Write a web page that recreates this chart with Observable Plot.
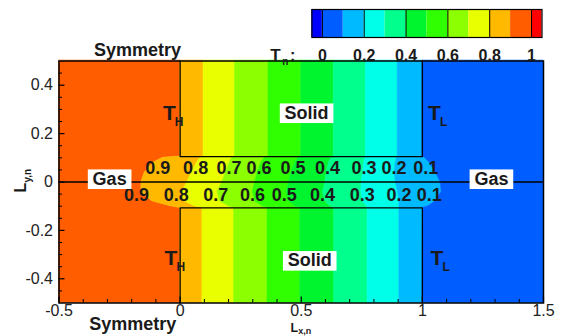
<!DOCTYPE html>
<html><head><meta charset="utf-8">
<script src="https://cdn.jsdelivr.net/npm/d3@7"></script>
<script src="https://cdn.jsdelivr.net/npm/@observablehq/plot@0.6"></script>
<style>
html,body{margin:0;padding:0;background:#fff;}
#wrap{position:relative;width:563px;height:336px;overflow:hidden;background:#fff;}
#wrap svg{position:absolute;left:0;top:0;}
</style></head><body><div id="wrap"></div>
<script>
// ---- colour levels (T_n) ----
const thresholds = [0, 0.1, 0.2, 0.3, 0.4, 0.5, 0.6, 0.7, 0.8, 0.9, 1.0];
const bandColors = ["#0000ff","#005dff","#00baff","#00ffe9","#00ff8c","#00f52f","#2fff00","#8cff00","#e9ff00","#ffba00","#ff5d00","#ff0000"];

// ---- contour positions: x of each T_n contour at given y ----
const knotY      = [0.5,   0.105, 0.1,   0.08,  0.04,  0,     -0.04, -0.08, -0.1,  -0.107, -0.5];
const contour09  = [0,     0,     -0.07, -0.11, -0.145,-0.16, -0.16, -0.115,-0.04,  0,      0];
const contour08  = [0.097, 0.097, 0.085, 0.07,  0.05,  0.03,  0.01,  0.02,  0.06,  0.092,  0.092];
const contour07  = [0.227, 0.227, 0.215, 0.205, 0.19,  0.175, 0.155, 0.165, 0.2,   0.223,  0.223];
const contour06  = [0.365, 0.365, 0.35,  0.335, 0.32,  0.31,  0.3,   0.31,  0.34,  0.361,  0.361];
const contour05  = [0.5,   0.5,   0.49,  0.475, 0.46,  0.45,  0.44,  0.45,  0.475, 0.496,  0.496];
const contour04  = [0.634, 0.634, 0.625, 0.615, 0.605, 0.6,   0.59,  0.6,   0.62,  0.636,  0.636];
const contour03  = [0.767, 0.767, 0.765, 0.76,  0.755, 0.75,  0.748, 0.755, 0.77,  0.774,  0.774];
const contour02  = [0.898, 0.898, 0.895, 0.89,  0.885, 0.89,  0.9,   0.905, 0.905, 0.905,  0.905];
const contour01  = [1.0,   1.0,   1.01,  1.03,  1.055, 1.075, 1.08,  1.055, 1.025, 1.003,  1.0];
const domainLeft  = [-0.5,-0.5,-0.5,-0.5,-0.5,-0.5,-0.5,-0.5,-0.5,-0.5,-0.5];
const domainRight = [1.5,1.5,1.5,1.5,1.5,1.5,1.5,1.5,1.5,1.5,1.5];
const bandT = [0.95, 0.85, 0.75, 0.65, 0.55, 0.45, 0.35, 0.25, 0.15, 0.05];

// ---- walls (solid outlines) and symmetry line ----
const wallId = ["up","up","up","up","lo","lo","lo","lo","sym","sym"];
const wallX  = [0, 0, 1, 1,   0, 0, 1, 1,   -0.5, 1.5];
const wallY  = [0.5, 0.105, 0.105, 0.5,   -0.5, -0.107, -0.107, -0.5,   0, 0];

// ---- contour labels ----
const clText   = ["0.9","0.8","0.7","0.6","0.5","0.4","0.3","0.2","0.1"];
const clUpperX = [-0.092, 0.064, 0.202, 0.326, 0.466, 0.608, 0.759, 0.883, 1.014];
const clLowerX = [-0.18, -0.016, 0.147, 0.299, 0.430, 0.588, 0.752, 0.904, 1.028];
const clUpperY = 0.057, clLowerY = -0.054;

// ---- region labels ----
const boxText = ["Solid","Solid","Gas","Gas"];
const boxX    = [0.522, 0.535, -0.291, 1.285];
const boxY    = [0.261, -0.349, -0.0116, -0.0116];
const tSub    = ["H","H","L","L"];
const tX      = [-0.0446, -0.0376, 1.050, 1.0605];
const tY      = [0.256, -0.345, 0.256, -0.345];

// ---- axes ----
const xMajor = [-0.5, 0, 0.5, 1, 1.5];
const xMinor = [-0.4,-0.3,-0.2,-0.1,0.1,0.2,0.3,0.4,0.6,0.7,0.8,0.9,1.1,1.2,1.3,1.4];
const yMajor = [-0.4, -0.2, 0, 0.2, 0.4];
const yMinor = [-0.45,-0.35,-0.3,-0.25,-0.15,-0.1,-0.05,0.05,0.1,0.15,0.25,0.3,0.35,0.45];

// ---- colour bar ----
const cbLo = [-0.05, 0, 0.1, 0.2, 0.3, 0.4, 0.5, 0.6, 0.7, 0.8, 0.9, 1.0];
const cbHi = [0, 0.1, 0.2, 0.3, 0.4, 0.5, 0.6, 0.7, 0.8, 0.9, 1.0, 1.05];
const cbTicks = [0, 0.2, 0.4, 0.6, 0.8, 1];
const cbLabels = ["0","0.2","0.4","0.6","0.8","1"];

// ---- build tables ----
const boundaries = [domainLeft, contour09, contour08, contour07, contour06, contour05, contour04, contour03, contour02, contour01, domainRight];
const fieldRows = [];
bandT.forEach((t, i) => knotY.forEach((y, j) => fieldRows.push({t, y, x1: boundaries[i][j], x2: boundaries[i+1][j]})));
const walls = wallId.map((id, i) => ({id, x: wallX[i], y: wallY[i]}));
const clRows = clText.flatMap((s, i) => [{s, x: clUpperX[i], y: clUpperY}, {s, x: clLowerX[i], y: clLowerY}]);
const boxRows = boxText.map((s, i) => ({s, x: boxX[i], y: boxY[i]}));
const tRows = tSub.map((s, i) => ({s, x: tX[i], y: tY[i]}));
const cbRows = cbLo.map((lo, i) => ({lo, hi: cbHi[i], t: (lo + cbHi[i]) / 2}));

const colorSpec = {type: "threshold", domain: thresholds, range: bandColors};
const FONT = "'Liberation Sans', Arial, Helvetica, sans-serif";
const INK = "#1a1a1a";

const main = Plot.plot({
  width: 563, height: 336,
  marginLeft: 58.5, marginRight: 20, marginTop: 60.5, marginBottom: 33.5,
  x: {domain: [-0.5, 1.5]},
  y: {domain: [-0.5, 0.5]},
  color: colorSpec,
  style: {fontFamily: FONT, fontSize: "16px", color: INK, background: "white"},
  marks: [
    Plot.areaX(fieldRows, {y: "y", x1: "x1", x2: "x2", z: "t", fill: "t", stroke: "t", strokeWidth: 0.6, curve: "linear"}),
    Plot.line(walls, {x: "x", y: "y", z: "id", stroke: "black", strokeWidth: 1.3}),
    Plot.frame({stroke: "black", strokeWidth: 1.5}),
    Plot.ruleX(xMajor, {x: d => d, y1: -0.5, y2: -0.5, insetTop: -6, stroke: "black", strokeWidth: 1.2}),
    Plot.ruleX(xMinor, {x: d => d, y1: -0.5, y2: -0.5, insetTop: -3.5, stroke: "black", strokeWidth: 1}),
    Plot.ruleY(yMajor, {y: d => d, x1: -0.5, x2: -0.5, insetRight: -6, stroke: "black", strokeWidth: 1.2}),
    Plot.ruleY(yMinor, {y: d => d, x1: -0.5, x2: -0.5, insetRight: -3.5, stroke: "black", strokeWidth: 1}),
    Plot.axisX(xMajor, {tickSize: 0, tickPadding: 1.5, tickFormat: d => String(d), label: null, fontSize: 16, fill: "#222"}),
    Plot.axisY(yMajor, {tickSize: 0, tickPadding: 6, tickFormat: d => String(d), label: null, fontSize: 16, fill: "#222"}),
    Plot.text(clRows, {x: "x", y: "y", text: "s", fontSize: 18, fontWeight: "bold", fill: INK, lineAnchor: "middle"}),
    Plot.text(boxRows, {x: "x", y: "y", text: "s", fontSize: 18, fontWeight: "bold", fill: INK, lineAnchor: "bottom"}),
    Plot.text(tRows, {x: "x", y: "y", text: () => "T", fontSize: 21, fontWeight: "bold", fill: INK, lineAnchor: "bottom"}),
    Plot.text(tRows, {x: "x", y: "y", text: "s", fontSize: 12, fontWeight: "bold", fill: INK, lineAnchor: "bottom", textAnchor: "start", dx: 5.5, dy: 5.5}),
    Plot.text(["Symmetry"], {x: -0.176, y: 0.52, text: d => d, fontSize: 18, fontWeight: "bold", fill: INK, lineAnchor: "bottom"}),
    Plot.text(["Symmetry"], {x: -0.196, y: -0.613, text: d => d, fontSize: 18, fontWeight: "bold", fill: INK, lineAnchor: "bottom"}),
    Plot.text(["L"], {x: 0.4557, y: -0.6178, text: d => d, fontSize: 12.5, fontWeight: "bold", fill: INK, lineAnchor: "bottom", textAnchor: "start"}),
    Plot.text(["x,n"], {x: 0.4557, y: -0.6178, text: d => d, fontSize: 9, fontWeight: "bold", fill: INK, lineAnchor: "bottom", textAnchor: "start", dx: 7.8, dy: 2.5}),
    Plot.text(["L"], {x: -0.638, y: -0.0434, text: d => d, fontSize: 16, fontWeight: "bold", fill: INK, lineAnchor: "bottom", textAnchor: "start", rotate: -90}),
    Plot.text(["y,n"], {x: -0.638, y: -0.0434, text: d => d, fontSize: 10, fontWeight: "bold", fill: INK, lineAnchor: "bottom", textAnchor: "start", rotate: -90, dx: 5, dy: -10})
  ]
});

const cbar = Plot.plot({
  width: 563, height: 66,
  marginLeft: 311.4, marginRight: 21.5, marginTop: 9, marginBottom: 29,
  x: {domain: [-0.05, 1.05], axis: null},
  y: {domain: [0, 1], axis: null},
  color: colorSpec,
  style: {fontFamily: FONT, fontSize: "16px", color: INK, background: "transparent"},
  marks: [
    Plot.rect(cbRows, {x1: "lo", x2: "hi", y1: 0, y2: 1, fill: "t"}),
    Plot.ruleX(cbTicks, {x: d => d, y1: 0, y2: 1, stroke: "black", strokeWidth: 1}),
    Plot.frame({stroke: "black", strokeWidth: 1.2}),
    Plot.text(cbTicks, {x: d => d, y: 0, text: (d, i) => cbLabels[i], dy: 23, fontSize: 16, fontWeight: "bold", fill: INK, lineAnchor: "bottom"}),
    Plot.text(["T"], {x: -0.05, y: 0, text: d => d, dx: -36.4, dy: 23, fontSize: 17, fontWeight: "bold", fill: INK, lineAnchor: "bottom"}),
    Plot.text(["n"], {x: -0.05, y: 0, text: d => d, dx: -29.6, dy: 27.5, fontSize: 10, fontWeight: "bold", fill: INK, lineAnchor: "bottom", textAnchor: "start"}),
    Plot.text([":"], {x: -0.05, y: 0, text: d => d, dx: -22, dy: 23, fontSize: 16, fontWeight: "bold", fill: INK, lineAnchor: "bottom", textAnchor: "start"})
  ]
});

const wrap = document.getElementById("wrap");
wrap.appendChild(main);
wrap.appendChild(cbar);

// white boxes behind the region labels
Array.from(main.querySelectorAll("text"))
  .filter(t => boxText.includes(t.textContent.trim()))
  .forEach(t => {
    const b = t.getBBox();
    const r = document.createElementNS("http://www.w3.org/2000/svg", "rect");
    r.setAttribute("x", b.x - 4.8);
    r.setAttribute("y", b.y + 0.6);
    r.setAttribute("width", b.width + 9.6);
    r.setAttribute("height", Math.max(0, b.height - 0.4));
    r.setAttribute("fill", "white");
    r.setAttribute("stroke", "none");
    const tr = t.getAttribute("transform");
    if (tr) r.setAttribute("transform", tr);
    t.parentNode.insertBefore(r, t);
  });
</script></body></html>
